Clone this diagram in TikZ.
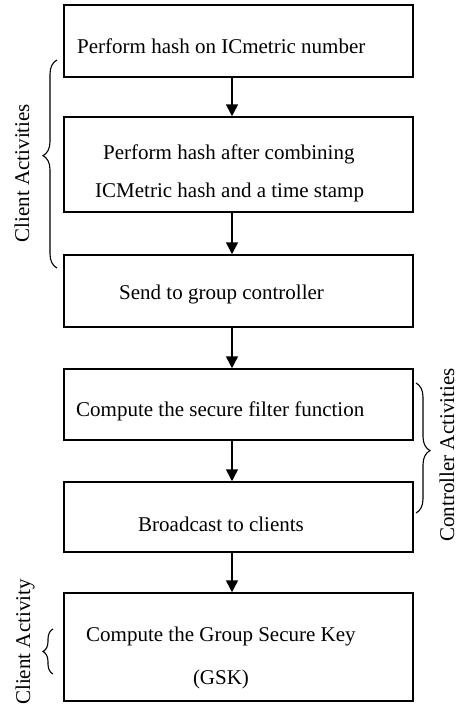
\documentclass[tikz,border=0pt]{standalone}
\usepackage{fontspec}
\setmainfont{Liberation Serif}
\usetikzlibrary{arrows.meta,decorations.pathreplacing}
\tikzset{
  stepbox/.style={draw, line width=1.5pt, minimum width=349pt, inner sep=0pt},
  lbl/.style={anchor=west, inner sep=0pt, font=\fontsize{21}{24}\selectfont},
  side/.style={rotate=90, inner sep=0pt, font=\fontsize{21}{24}\selectfont},
  flow/.style={line width=1.5pt, -{Triangle[width=12pt,length=12pt]}},
  curly/.style={line width=1.1pt, decorate, decoration={brace, amplitude=12pt}}
}
\begin{document}
\begin{tikzpicture}[x=1pt, y=-1pt]
\useasboundingbox (0,0) rectangle (459,707);

% process boxes
\node[stepbox, minimum height=72pt] (b1) at (238.5,41) {};
\node[stepbox, minimum height=95pt] (b2) at (238.5,164.5) {};
\node[stepbox, minimum height=72pt] (b3) at (238.5,291) {};
\node[stepbox, minimum height=71pt] (b4) at (238.5,404.5) {};
\node[stepbox, minimum height=70pt] (b5) at (238.5,517) {};
\node[stepbox, minimum height=108pt] (b6) at (238.5,647) {};

% box texts
\node[lbl] (t1) at (77,46) {Perform hash on ICmetric number};
\node[lbl] (t2a) at (103,154) {Perform hash after combining};
\node[lbl] (t2b) at (95,192) {ICMetric hash and a time stamp};
\node[lbl] (t3) at (119,294) {Send to group controller};
\node[lbl] (t4) at (76,411) {Compute the secure filter function};
\node[lbl] (t5) at (138,524) {Broadcast to clients};
\node[lbl] (t6a) at (86,636) {Compute the Group Secure Key};
\node[anchor=center, inner sep=0pt, font=\fontsize{21}{24}\selectfont] (t6b) at (221,679) {(GSK)};

% flow arrows
\coordinate (ax) at (232,0);
\draw[flow] (b1.south -| ax) -- (b2.north -| ax);
\draw[flow] (b2.south -| ax) -- (b3.north -| ax);
\draw[flow] (b3.south -| ax) -- (b4.north -| ax);
\draw[flow] (b4.south -| ax) -- (b5.north -| ax);
\draw[flow] (b5.south -| ax) -- (b6.north -| ax);

% grouping braces
\coordinate (c1s) at (57,268);
\coordinate (c1e) at (57,60);
\draw[curly, decoration={amplitude=14pt, aspect=0.54}] (c1s) -- (c1e);
\node[side] (g1) at (22,173) {Client Activities};

\coordinate (c2s) at (416,383);
\coordinate (c2e) at (416,513);
\draw[curly, decoration={amplitude=14pt, aspect=0.52}] (c2s) -- (c2e);
\node[side] (g2) at (447,455) {Controller Activities};

\coordinate (c3s) at (53,674);
\coordinate (c3e) at (53,629);
\draw[curly, decoration={amplitude=10pt}] (c3s) -- (c3e);
\node[side] (g3) at (25,642) {Client Activity};
\end{tikzpicture}
\end{document}
